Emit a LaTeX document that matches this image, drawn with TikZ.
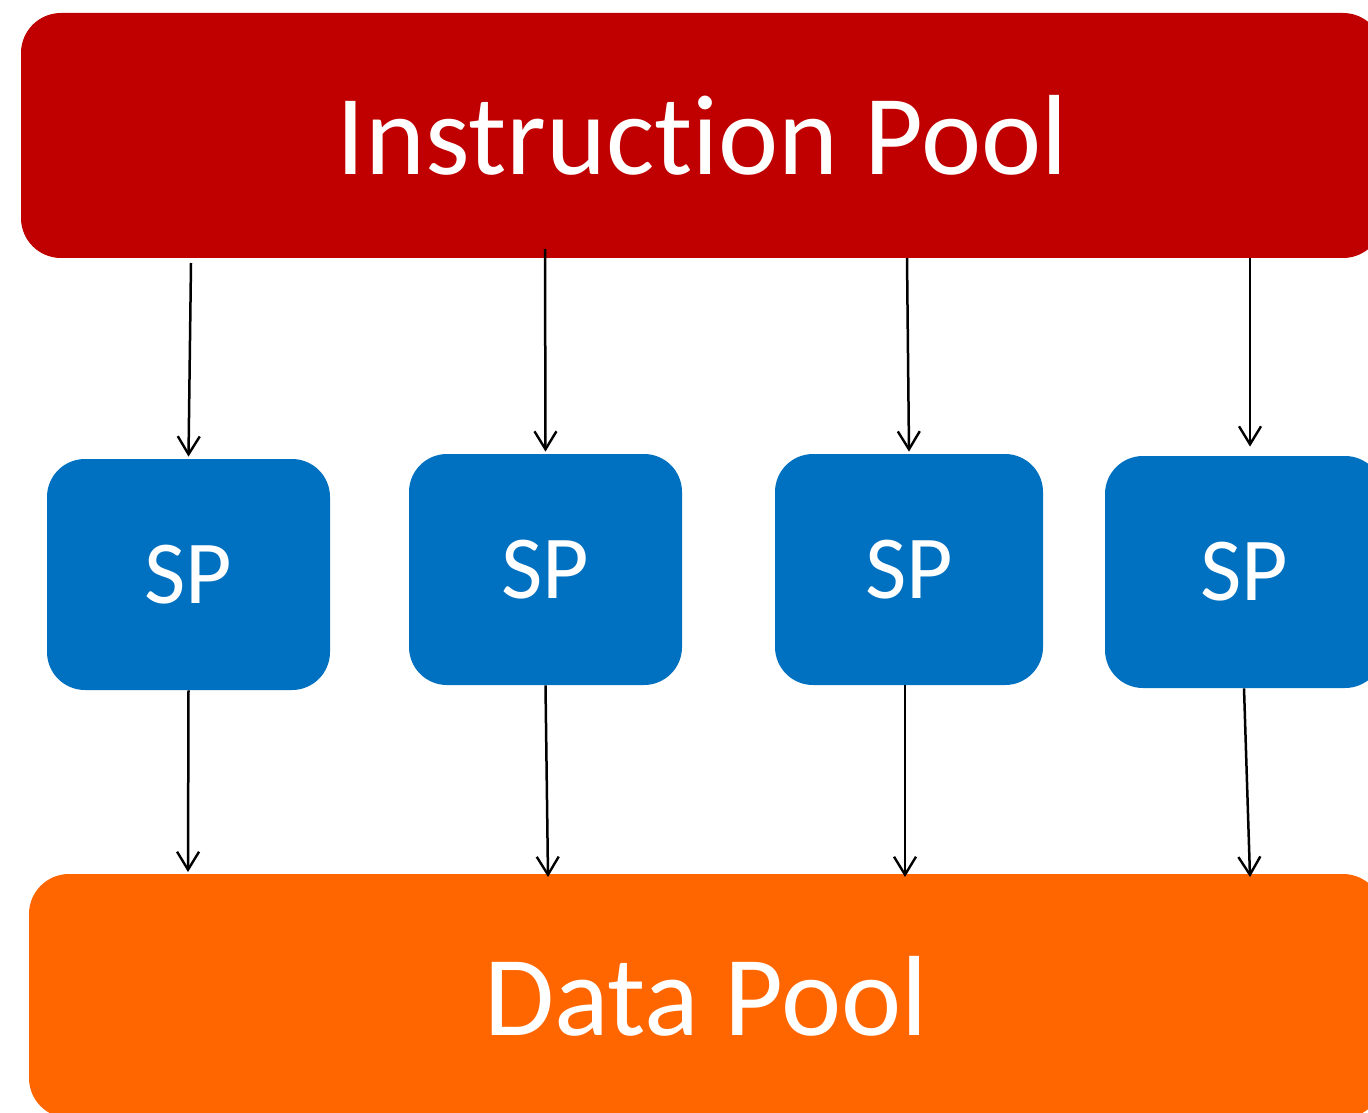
\documentclass[tikz,border=0pt]{standalone}
\usepackage{fontspec}
\setmainfont[Ligatures=NoCommon]{Carlito}
\usetikzlibrary{arrows.meta}
\definecolor{poolred}{HTML}{C00000}
\definecolor{spblue}{HTML}{0070C0}
\definecolor{poolorange}{HTML}{FF6600}
\tikzset{
  pool/.style={rounded corners=20pt, text=white, inner sep=0pt, anchor=center},
  spbox/.style={fill=spblue, rounded corners=19pt, text=white, inner sep=0pt,
    minimum height=115.5pt, font=\fontsize{45}{45}\selectfont},
  link/.style={-{Straight Barb[length=9pt,width=11pt,line width=1.2pt]}, line width=1.25pt, black}
}
\begin{document}
\begin{tikzpicture}[x=0.5pt,y=-0.5pt]
\useasboundingbox (0,0) rectangle (1368,1112);
\clip (0,0) rectangle (1368,1112);
% pools
\node[pool, fill=poolred, minimum width=681pt, minimum height=122.5pt,
  font=\fontsize{57}{57}\selectfont] (ip) at (702,135.5) {Instruction Pool};
\node[pool, fill=poolorange, minimum width=677pt, minimum height=122pt,
  font=\fontsize{57}{57}\selectfont] (dp) at (706,996) {Data Pool};
% processors
\node[spbox, minimum width=141.5pt] (sp1) at (188.5,574.5) {\raisebox{-1.5pt}{SP}};
\node[spbox, minimum width=136.5pt] (sp2) at (545.5,569.5) {\raisebox{-1.5pt}{SP}};
\node[spbox, minimum width=134pt] (sp3) at (909,569.5) {\raisebox{-1.5pt}{SP}};
\node[spbox, minimum width=139pt, minimum height=116pt] (sp4) at (1244,572) {\raisebox{-1.5pt}{SP}};
% connector ends
\coordinate (i1) at (191,263);
\coordinate (i2) at (545,249);
\coordinate (i3) at (907,258);
\coordinate (i4) at (1250,258);
\coordinate (d1) at (188,872);
\coordinate (d2) at (548,877);
\coordinate (d3) at (905,877);
\coordinate (d4) at (1250,877);
% instruction streams
\draw[link] (i1) -- ([yshift=1pt]sp1.north);
\draw[link] (i2) -- ([yshift=1pt]sp2.north);
\draw[link] (i3) -- ([yshift=1pt]sp3.north);
\draw[link] (i4) -- ([xshift=3pt,yshift=4.5pt]sp4.north);
% data streams
\draw[link] (sp1.south) -- (d1);
\draw[link] (sp2.south) -- (d2);
\draw[link] ([xshift=-2pt]sp3.south) -- (d3);
\draw[link] (sp4.south) -- (d4);
\end{tikzpicture}
\end{document}
